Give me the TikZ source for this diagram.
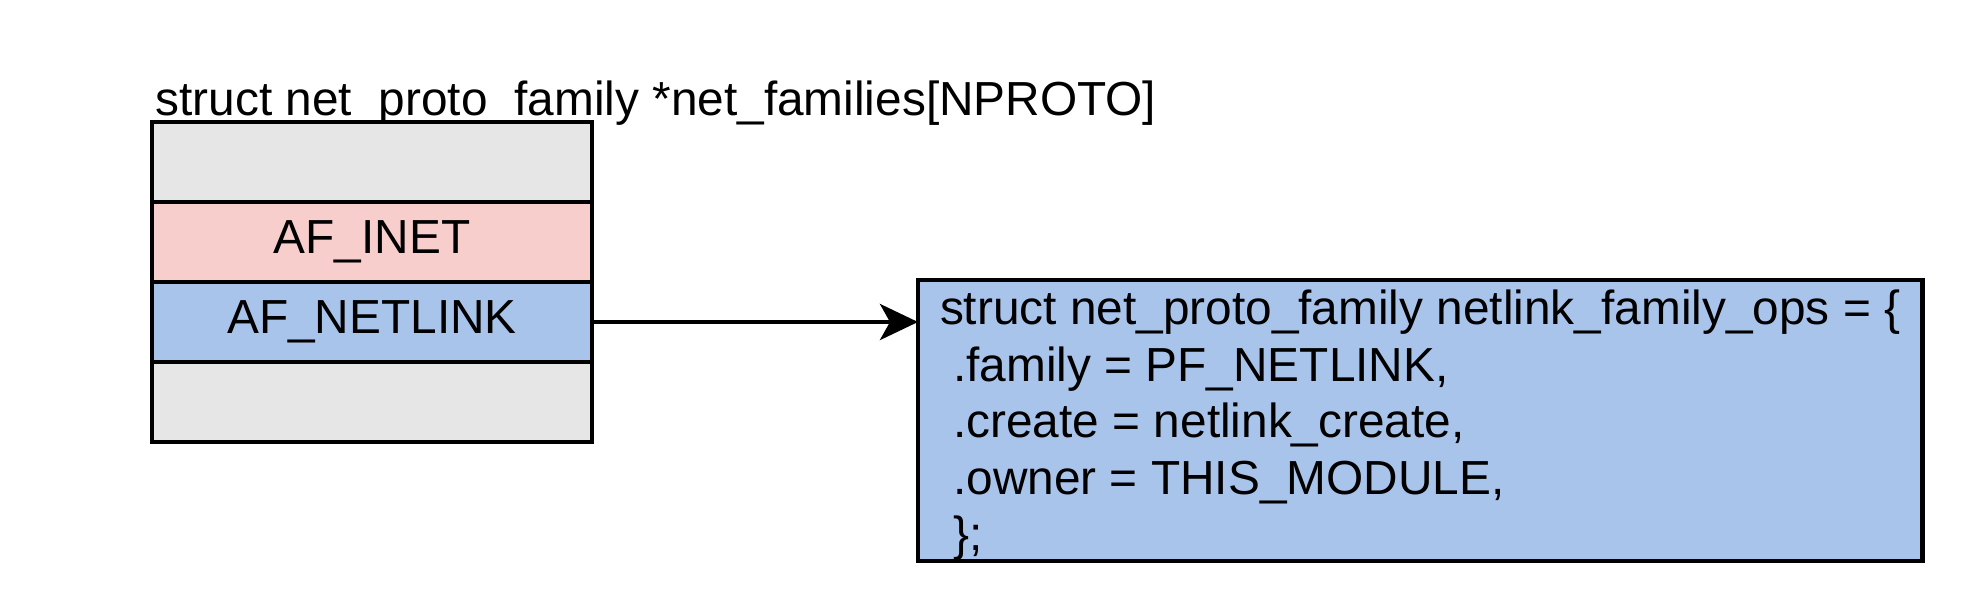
\documentclass[tikz,border=0pt]{standalone}
\usepackage{fontspec}
\setmainfont{Liberation Sans}
\usepackage{xcolor}
\usetikzlibrary{positioning, arrows.meta, calc}

\definecolor{slotgray}{HTML}{E6E6E6}
\definecolor{inetred}{HTML}{F8CECC}
\definecolor{linkblue}{HTML}{A9C4EB}

\begin{document}
\begin{tikzpicture}[
    x=0.1mm, y=-0.1mm,
    every node/.style={font=\fontsize{13.6}{15.65}\selectfont},
    slot/.style={draw, line width=1.2pt, rectangle, minimum width=44mm, minimum height=8mm, outer sep=0pt, inner sep=0pt},
    opsbox/.style={draw, line width=1.3pt, rectangle, fill=linkblue, align=left, inner xsep=2.2mm, inner ysep=0pt, minimum height=28.1mm, outer sep=0pt, text depth=0pt, font=\fontsize{13.6}{16.1}\selectfont}
]
    \useasboundingbox (0,0) rectangle (1972,608);

    % Array title
    \node[anchor=base west, inner sep=0pt] (arrtitle) at (155,115) {struct net\_proto\_family *net\_families[NPROTO]};

    % Array slots
    \node[slot, fill=slotgray, anchor=north west] (slottop) at (152,122) {};
    \node[slot, fill=inetred, below=0pt of slottop] (inet) {AF\_INET};
    \node[slot, fill=linkblue, below=0pt of inet] (netlink) {AF\_NETLINK};
    \node[slot, fill=slotgray, below=0pt of netlink] (slotbot) {};

    % Netlink ops struct
    \node[opsbox, anchor=north west] (ops) at (918,280) {struct net\_proto\_family netlink\_family\_ops = \{\\
        \hspace*{0.278em}.family = PF\_NETLINK,\\
        \hspace*{0.278em}.create = netlink\_create,\\
        \hspace*{0.278em}.owner = THIS\_MODULE,\\
        \hspace*{0.278em}\};};

    % Pointer
    \draw[-{Stealth[length=3.8mm, width=3.6mm, inset=1mm]}, line width=1.3pt] (netlink.east) -- (netlink.east -| ops.west);

\end{tikzpicture}
\end{document}
